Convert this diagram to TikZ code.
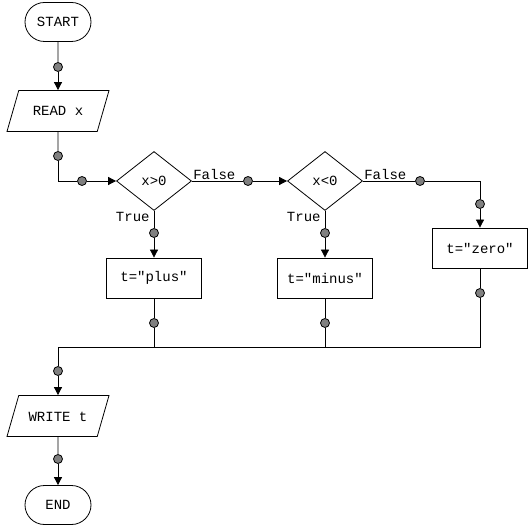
\documentclass[tikz,border=0pt]{standalone}
\usepackage{fontspec}
\setmonofont{Liberation Mono}
\usetikzlibrary{shapes.geometric,shapes.misc,arrows.meta}

\tikzset{
    base/.style={draw, font=\ttfamily\fontsize{14}{16}\selectfont, inner sep=0pt},
    term/.style={base, rounded rectangle, minimum width=66pt, minimum height=39pt},
    io/.style={base, trapezium, trapezium left angle=74, trapezium right angle=106,
        trapezium stretches body=true, text height=10pt, text depth=0pt,
        inner ysep=15.5pt, minimum width=102pt},
    test/.style={base, diamond, minimum width=75pt, minimum height=59pt},
    proc/.style={base, rectangle, minimum width=95pt, minimum height=40pt},
    dot/.style={circle, draw, fill=gray, inner sep=0pt, minimum size=9pt},
    lbl/.style={font=\ttfamily\fontsize{14}{16}\selectfont, inner sep=1pt},
    arr/.style={-{Triangle[length=8pt,width=8pt]}}
}

\begin{document}
\begin{tikzpicture}[x=1pt, y=-1pt, thick]
    \useasboundingbox (0,0) rectangle (530,526);

    \node[term] (start) at (58,22) {START};
    \node[io] (read) at (58,111) {READ x};
    \node[test] (pos) at (154,181) {x>0};
    \node[test] (neg) at (325,181) {x<0};
    \node[proc] (plus) at (154,278) {t="plus"};
    \node[proc] (minus) at (325,278) {t="minus"};
    \node[proc] (zero) at (480,248) {t="zero"};
    \node[io] (write) at (58,416) {WRITE t};
    \node[term] (end) at (58,505) {END};

    \node[dot] (d1) at (58,67) {};
    \node[dot] (d2) at (58,156) {};
    \node[dot] (d3) at (82,181) {};
    \node[dot] (d4) at (248,181) {};
    \node[dot] (d5) at (154,233) {};
    \node[dot] (d6) at (420,181) {};
    \node[dot] (d7) at (325,233) {};
    \node[dot] (d8) at (480,204) {};
    \node[dot] (d9) at (154,323) {};
    \node[dot] (d10) at (325,323) {};
    \node[dot] (d11) at (480,293) {};
    \node[dot] (d12) at (58,371) {};
    \node[dot] (d13) at (58,459) {};

    \coordinate (m1) at (480,181);
    \coordinate (m2) at (58,347);

    \node[lbl, anchor=south west] (f1) at (pos.east) {False};
    \node[lbl, anchor=north east] (t1) at ([xshift=-3pt]pos.south) {True};
    \node[lbl, anchor=south west] (f2) at (neg.east) {False};
    \node[lbl, anchor=north east] (t2) at ([xshift=-3pt]neg.south) {True};

    \draw (start) -- (d1);
    \draw[arr] (d1) -- (read);
    \draw (read) -- (d2);
    \draw (d2) |- (d3);
    \draw[arr] (d3) -- (pos);

    \draw (pos) -- (d4);
    \draw[arr] (d4) -- (neg);
    \draw (pos) -- (d5);
    \draw[arr] (d5) -- (plus);

    \draw (neg) -- (d6);
    \draw (d6) -- (m1) -- (d8);
    \draw[arr] (d8) -- (zero);
    \draw (neg) -- (d7);
    \draw[arr] (d7) -- (minus);

    \draw (plus) -- (d9);
    \draw (minus) -- (d10);
    \draw (zero) -- (d11);
    \draw (d11) |- (m2) -- (d12);
    \draw (d9) -- (d9 |- m2);
    \draw (d10) -- (d10 |- m2);
    \draw[arr] (d12) -- (write);
    \draw (write) -- (d13);
    \draw[arr] (d13) -- (end);
\end{tikzpicture}
\end{document}
